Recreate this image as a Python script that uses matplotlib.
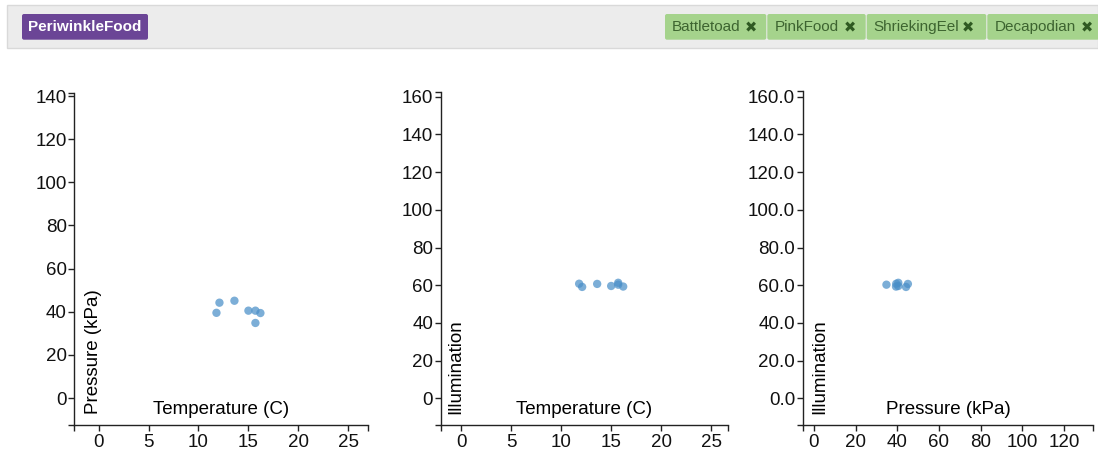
import matplotlib.pyplot as plt
import matplotlib.patches as patches
from matplotlib.ticker import FormatStrFormatter

plt.rcParams['font.family'] = ['Liberation Sans', 'DejaVu Sans']

# data
temperature = [11.8, 12.1, 13.6, 15.0, 15.7, 15.7, 16.2]
pressure = [39.5, 44.2, 45.1, 40.5, 40.5, 34.8, 39.4]
illumination = [60.8, 59.1, 60.7, 59.6, 61.3, 60.3, 59.3]

selected = "PeriwinkleFood"
tags = ["Battletoad", "PinkFood", "ShriekingEel", "Decapodian"]

W, H = 1098, 455
fig = plt.figure(figsize=(W / 100, H / 100), dpi=100)


def px_box(x0, y0, x1, y1):
    # pixel box (top-left origin) -> figure fraction rect
    return [x0 / W, 1 - y1 / H, (x1 - x0) / W, (y1 - y0) / H]


# header bar
bar = fig.add_axes([0, 0, 1, 1], zorder=-1)
bar.set_xlim(0, W)
bar.set_ylim(H, 0)
bar.axis('off')
bar.add_patch(patches.Rectangle((7, 5), W - 7, 43, facecolor='#ececec', edgecolor='#d9d9d9', lw=1))
bar.add_patch(patches.FancyBboxPatch((22, 14), 126, 25.7, boxstyle='round,pad=0,rounding_size=2',
                                     facecolor='#6b4596', edgecolor='none'))
bar.text(85, 27, selected, color='white', fontsize=11, fontweight='bold', ha='center', va='center')

tag_edges = [665, 767.3, 866.7, 987.3, 1100]
x_marks = [751, 850, 968.3, 1087.3]
for i, t in enumerate(tags):
    x0, x1 = tag_edges[i], tag_edges[i + 1]
    bar.add_patch(patches.FancyBboxPatch((x0, 14), x1 - x0 - 1, 25.7, boxstyle='round,pad=0,rounding_size=2',
                                         facecolor='#a5d38c', edgecolor='none'))
    bar.text(x0 + 7, 27, t, color='#3d6430', fontsize=11, ha='left', va='center')
    bar.text(x_marks[i], 27.5, '\u2716', color='#2f5a22', fontsize=10.5, ha='center', va='center',
             family=['DejaVu Sans'])

panels = [
    dict(box=(74.3, 93, 368.3, 425), x=temperature, y=pressure, xlim=(-2.43, 27.0), ylim=(-12.5, 141.4),
         xticks=[0, 5, 10, 15, 20, 25], yticks=[0, 20, 40, 60, 80, 100, 120, 140],
         xlabel='Temperature (C)', ylabel='Pressure (kPa)', yfmt='%d', ylx=93.3),
    dict(box=(440.7, 91.7, 728.3, 425), x=temperature, y=illumination, xlim=(-2.03, 26.7), ylim=(-14.1, 162.6),
         xticks=[0, 5, 10, 15, 20, 25], yticks=[0, 20, 40, 60, 80, 100, 120, 140, 160],
         xlabel='Temperature (C)', ylabel='Illumination', yfmt='%d', ylx=456),
    dict(box=(802.7, 91, 1093.3, 425), x=pressure, y=illumination, xlim=(-5.4, 134.1), ylim=(-14.1, 163.0),
         xticks=[0, 20, 40, 60, 80, 100, 120], yticks=[0, 20, 40, 60, 80, 100, 120, 140, 160],
         xlabel='Pressure (kPa)', ylabel='Illumination', yfmt='%.1f', ylx=820),
]

for p in panels:
    x0, y0, x1, y1 = p['box']
    ax = fig.add_axes(px_box(x0, y0, x1, y1))
    ax.scatter(p['x'], p['y'], s=36, color='#4a8fc8', alpha=0.72, edgecolors='none', zorder=3)
    ax.set_xlim(*p['xlim'])
    ax.set_ylim(*p['ylim'])
    ax.set_xticks(p['xticks'])
    ax.set_yticks(p['yticks'])
    ax.set_xticks(list(p['xlim']), minor=True)
    ax.set_yticks(list(p['ylim']), minor=True)
    ax.yaxis.set_major_formatter(FormatStrFormatter(p['yfmt']))
    for s in ['top', 'right']:
        ax.spines[s].set_visible(False)
    for s in ['left', 'bottom']:
        ax.spines[s].set_color('#222222')
        ax.spines[s].set_linewidth(1)
    ax.tick_params(which='both', length=4.3, width=1, color='#222222', direction='out')
    ax.tick_params(axis='y', labelsize=13.5, pad=1.2, labelcolor='#111111')
    ax.tick_params(axis='x', labelsize=13.5, pad=2.0, labelcolor='#111111')
    ax.patch.set_alpha(0)
    fig.text(((x0 + x1) / 2) / W, 1 - 417.5 / H, p['xlabel'], fontsize=13.5, ha='center', va='bottom')
    fig.text(p['ylx'] / W, 1 - 414 / H, p['ylabel'], fontsize=13.5, rotation=90, ha='center', va='bottom')

fig.savefig('out.png', dpi=100)
